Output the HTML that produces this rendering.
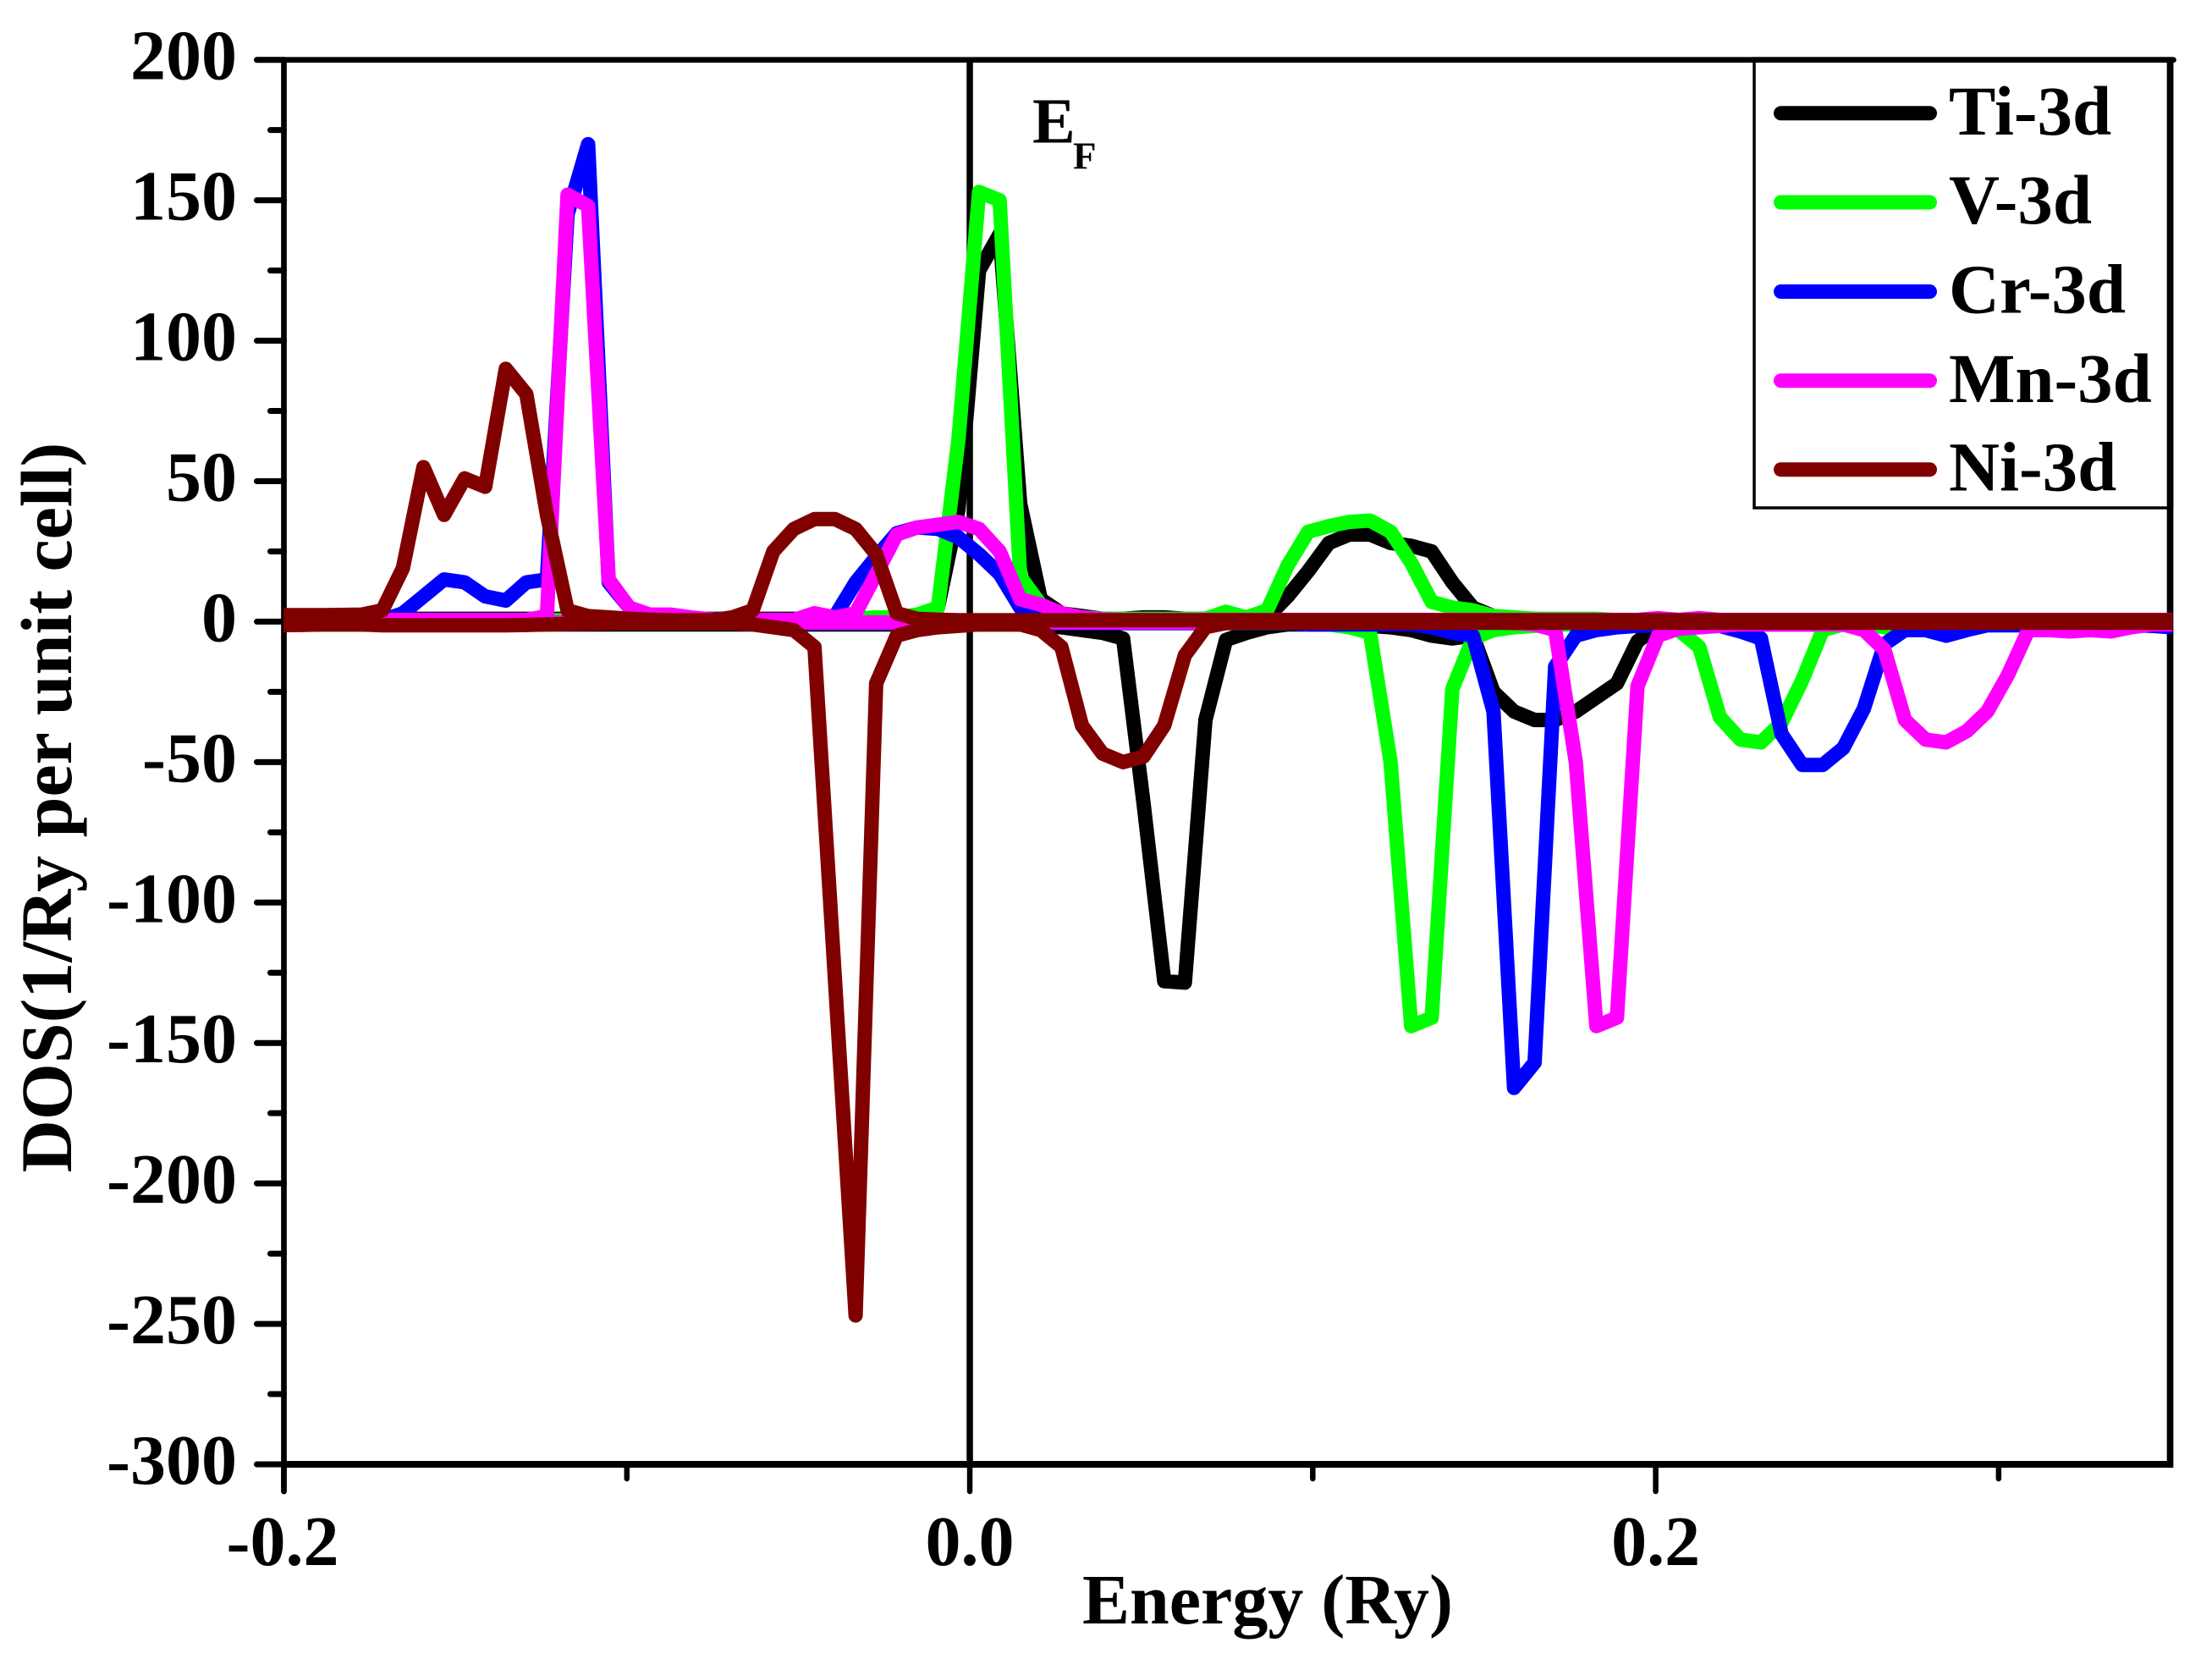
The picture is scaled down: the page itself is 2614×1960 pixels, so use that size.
<!DOCTYPE html>
<html lang="en">
<head>
<meta charset="utf-8">
<title>DOS chart</title>
<style>
html,body{margin:0;padding:0;background:#fff;}
svg{display:block;}
text{font-family:"Liberation Serif",serif;font-weight:bold;fill:#000;}
</style>
</head>
<body>
<svg id="chart" xmlns="http://www.w3.org/2000/svg" width="2614" height="1960" viewBox="0 0 2614 1960">
  <rect x="0" y="0" width="2614" height="1960" fill="#fff"/>
  <defs><clipPath id="plot-clip"><rect x="335" y="60" width="2233" height="1680"/></clipPath></defs>
  <g id="axes"></g>
  <g id="series" clip-path="url(#plot-clip)"></g>
  <text x="1498" y="1918" font-size="84" text-anchor="middle">Energy (Ry)</text>
  <text transform="translate(84,954) rotate(-90)" font-size="86" text-anchor="middle">DOS(1/Ry per unit cell)</text>
  <text x="1220" y="168.5" font-size="76">E</text>
  <text x="1268" y="199.5" font-size="45">F</text>
  <g id="legend"></g>
</svg>
<script>
const energies = [
-0.2013,-0.1953,-0.1893,-0.1833,-0.1773,-0.1713,-0.1653,-0.1593,-0.1533,-0.1473,
-0.1413,-0.1353,-0.1293,-0.1233,-0.1173,-0.1113,-0.1053,-0.0993,-0.0933,-0.0873,
-0.0813,-0.0753,-0.0693,-0.0633,-0.0573,-0.0513,-0.0453,-0.0393,-0.0333,-0.0273,
-0.0213,-0.0153,-0.0093,-0.0033,0.0027,0.0087,0.0147,0.0207,0.0267,0.0327,
0.0387,0.0447,0.0507,0.0567,0.0627,0.0687,0.0747,0.0807,0.0867,0.0927,
0.0987,0.1047,0.1107,0.1167,0.1227,0.1287,0.1347,0.1407,0.1467,0.1527,
0.1587,0.1647,0.1707,0.1767,0.1827,0.1887,0.1947,0.2007,0.2067,0.2127,
0.2187,0.2247,0.2307,0.2367,0.2427,0.2487,0.2547,0.2607,0.2667,0.2727,
0.2787,0.2847,0.2907,0.2967,0.3027,0.3087,0.3147,0.3207,0.3267,0.3327,
0.3387,0.3447,0.3507];

const tiUp = [
1,1,1,1,1,1,1,1,1,1,
1,1,1,1,1,1,1,1,1,1,
1,1,1,1,1,1,1,1,1,1,
1,1,5,40,125,138,42,8,3,2,
1,1,1.5,1.5,1,1,1,1,1.5,9,
18,28,31,31,28,27,25,14,5,2,
1,1,0.5,0.5,0.5,0.5,0.5,0.5,0.5,0.5,
0.5,0.5,0.5,0.5,0.5,0.5,0.5,0.5,0.5,0.5,
0.5,0.5,0.5,0.5,0.5,0.5,0.5,0.5,0.5,0.5,
0.5,0.5,0.5];
const tiDown = [
-1,-1,-1,-1,-1,-1,-1,-1,-1,-1,
-1,-1,-1,-1,-1,-1,-1,-1,-1,-1,
-1,-1,-1,-1,-1,-1,-1,-1,-1,-1,
-1,-1,-1,-1,-1,-1,-1,-1.5,-2,-3,
-4,-6,-65,-128,-128.5,-35,-6.5,-4,-2,-1,
-1,-1,-1.5,-1.5,-2,-3,-5,-6,-5,-25,
-32,-35,-35,-32,-27,-22,-7,-1.5,-1,-1,
-1,-1,-1,-1,-1,-1,-1,-1,-1,-1,
-1,-1,-1,-1,-1,-1,-1,-1,-1,-1,
-1,-1,-1];
const vUp = [
0.5,0.5,0.5,0.5,0.5,0.5,0.5,0.5,0.5,0.5,
0.5,0.5,0.5,0.5,0.5,0.5,0.5,0.5,0.5,0.5,
0.5,0.5,0.5,0.5,0.5,0.5,0.5,0.5,1,1.5,
1.5,2.5,5,65,153,150,16,6,3,1.5,
1,1,1,1,1,1,3.5,1.5,4,20,
32,34,35.5,36,32,21,7,5,4,2,
1.5,1,1,1,1,0.5,0.5,0.5,0.5,0.5,
0.5,0.5,0.5,0.5,0.5,0.5,0.5,0.5,0.5,0.5,
0.5,0.5,0.5,0.5,0.5,0.5,0.5,0.5,0.5,0.5,
0.5,0.5,0.5];
const vDown = [
-0.5,-0.5,-0.5,-0.5,-0.5,-0.5,-0.5,-0.5,-0.5,-0.5,
-0.5,-0.5,-0.5,-0.5,-0.5,-0.5,-0.5,-0.5,-0.5,-0.5,
-0.5,-0.5,-0.5,-0.5,-0.5,-0.5,-0.5,-0.5,-0.5,-0.5,
-0.5,-0.5,-0.5,-0.5,-0.5,-0.5,-0.5,-0.5,-0.5,-0.5,
-0.5,-0.5,-0.5,-0.5,-0.5,-0.5,-0.5,-0.5,-0.5,-0.5,
-0.5,-1,-2,-4,-50,-144,-141,-24,-6,-3,
-2,-1.5,-1,-1,-1,-1,-1,-1,-3,-9,
-34,-42,-43,-36,-21,-3,-1,-1,-2,-3,
-2,-3,-2,-1,-0.5,-0.5,-0.5,-0.5,-0.5,-0.5,
-0.5,-0.5,-0.5];
const crUp = [
0.3,0.3,0.3,0.3,0.3,0.5,3,9,15,14,
9,7.5,14,15,145,170,14,5,2,1,
0.5,0.5,0.5,0.5,0.5,0.5,0.5,2,14,23,
31.5,33.5,33,30,24,17,5,2,1.5,1,
0.5,0.5,0.5,0.5,0.5,0.5,0.5,0.5,0.5,0.5,
0.5,0.5,0.5,0.5,0.5,0.5,0.5,0.5,0.5,0.5,
0.5,0.5,0.5,0.5,0.5,0.5,0.5,0.5,0.5,0.5,
0.5,0.5,0.5,0.5,0.5,0.5,0.5,0.5,0.5,0.5,
0.5,0.5,0.5,0.5,0.5,0.5,0.5,0.5,0.5,0.5,
0.5,0.5,0.5];
const crDown = [
-0.5,-0.5,-0.5,-0.5,-0.5,-0.5,-0.5,-0.5,-0.5,-0.5,
-0.5,-0.5,-0.5,-0.5,-0.5,-0.5,-0.5,-0.5,-0.5,-0.5,
-0.5,-0.5,-0.5,-0.5,-0.5,-0.5,-0.5,-0.5,-0.5,-0.5,
-0.5,-0.5,-0.5,-0.5,-0.5,-0.5,-0.5,-0.5,-0.5,-0.5,
-0.5,-0.5,-0.5,-0.5,-0.5,-0.5,-0.5,-0.5,-0.5,-0.5,
-1,-1,-1,-1,-1,-1,-2,-4,-5,-32,
-166,-157,-16,-5,-3,-2,-1.5,-1.3,-1.3,-1.3,
-1.5,-3.5,-6,-40,-51,-51,-45,-31,-8,-3,
-3,-5,-3,-1.3,-1.3,-1.3,-1.3,-1.3,-1.3,-1.3,
-1.3,-1.5,-2];
const mnUp = [
0.6,0.6,0.6,0.6,0.6,0.6,0.6,0.6,0.6,0.6,
0.6,0.6,0.6,2,152,148,15,5,2.5,2.5,
1.5,0.8,0.6,0.6,0.6,0.6,3,1.5,3,17,
31,33.5,34.5,35.5,33,25,8,6,3,1.5,
0.8,0.6,0.6,0.6,0.6,0.6,0.6,0.6,0.6,0.6,
0.6,0.6,0.6,0.6,0.6,0.6,0.6,0.6,0.6,0.6,
0.6,0.6,0.6,0.6,0.6,0.6,0.6,1.2,0.6,1.2,
0.6,0.6,0.6,0.6,0.6,0.6,0.6,0.6,0.6,0.6,
0.6,0.6,0.6,0.6,0.6,0.6,0.6,0.6,0.6,0.6,
0.6,0.6,0.6];
const mnDown = [
-0.3,-0.3,-0.3,-0.3,-0.3,-0.3,-0.3,-0.3,-0.3,-0.3,
-0.3,-0.3,-0.3,-0.3,-0.3,-0.3,-0.3,-0.3,-0.3,-0.3,
-0.3,-0.3,-0.3,-0.3,-0.3,-0.3,-0.3,-0.3,-0.3,-0.3,
-0.3,-0.3,-0.3,-0.3,-0.3,-0.3,-0.3,-0.3,-0.3,-0.3,
-0.3,-0.3,-0.3,-0.3,-0.3,-0.3,-0.3,-0.3,-0.3,-0.3,
-0.3,-0.3,-0.3,-0.3,-0.3,-0.3,-0.3,-0.3,-0.3,-0.3,
-0.5,-1,-3,-50,-144,-141,-23,-5,-2.5,-2,
-1.5,-1,-1,-1,-1,-1,-1,-3,-10,-35,
-42,-43,-39,-32,-19,-3,-3,-3.5,-3,-3.5,
-2,-1,-1];
const niUp = [
2.3,2.3,2.3,2.4,2.5,4,19,55,38,51,
48,90,81,38,4,2,1.5,1,0.7,0.5,
0.5,0.5,1.5,4,25,33,36.5,36.5,33,24,
3,1,0.7,0.5,0.5,0.5,0.5,0.5,0.5,0.5,
0.5,0.5,0.5,0.5,0.5,0.5,0.5,0.5,0.5,0.5,
0.5,0.5,0.5,0.5,0.5,0.5,0.5,0.5,0.5,0.5,
0.5,0.5,0.5,0.5,0.5,0.5,0.5,0.5,0.5,0.5,
0.5,0.5,0.5,0.5,0.5,0.5,0.5,0.5,0.5,0.5,
0.5,0.5,0.5,0.5,0.5,0.5,0.5,0.5,0.5,0.5,
0.5,0.5,0.5];
const niDown = [
-1.2,-1.2,-1,-1,-1,-1.3,-1.3,-1.3,-1.3,-1.3,
-1.3,-1.3,-1.2,-1,-0.8,-0.7,-0.6,-0.5,-0.5,-0.5,
-0.5,-0.5,-0.5,-1,-2,-3,-9,-128,-247,-22,
-5,-3,-2,-1.5,-1,-1,-1,-3,-9,-37,
-47,-50,-48,-37,-12,-2,-0.5,-0.4,-0.4,-0.4,
-0.4,-0.4,-0.4,-0.4,-0.4,-0.4,-0.4,-0.4,-0.4,-0.4,
-0.4,-0.4,-0.4,-0.4,-0.4,-0.4,-0.4,-0.4,-0.4,-0.4,
-0.4,-0.4,-0.4,-0.4,-0.4,-0.4,-0.4,-0.4,-0.4,-0.4,
-0.4,-0.4,-0.4,-0.4,-0.4,-0.4,-0.4,-0.4,-0.4,-0.4,
-0.4,-0.4,-0.4];

const seriesNames = ['Ti-3d','V-3d','Cr-3d','Mn-3d','Ni-3d'];
const seriesColors = ['#000000','#00ff00','#0000ff','#ff00ff','#800000'];
const upChannels = [tiUp,vUp,crUp,mnUp,niUp];
const downChannels = [tiDown,vDown,crDown,mnDown,niDown];
const yMajorTicks = [200,150,100,50,0,-50,-100,-150,-200,-250,-300];
const yMinorTicks = [175,125,75,25,-25,-75,-125,-175,-225,-275];
const xMajorTicks = [-0.2,0,0.2];
const xMajorLabels = ['-0.2','0.0','0.2'];
const xMinorTicks = [-0.1,0.1,0.3];

const NS = 'http://www.w3.org/2000/svg';
const PLOT = {left:335.5,right:2564.5,top:70.7,bottom:1730};
const XMIN = -0.2, XMAX = 0.35, YMIN = -300, YMAX = 200;
function sx(v){ return PLOT.left + (v-XMIN)/(XMAX-XMIN)*(PLOT.right-PLOT.left); }
function sy(v){ return PLOT.bottom - (v-YMIN)/(YMAX-YMIN)*(PLOT.bottom-PLOT.top); }

function line(parent,x1,y1,x2,y2,w,cap,color){
  const el = document.createElementNS(NS,'line');
  el.setAttribute('x1',x1); el.setAttribute('y1',y1);
  el.setAttribute('x2',x2); el.setAttribute('y2',y2);
  el.setAttribute('stroke',color||'#000');
  el.setAttribute('stroke-width',w);
  el.setAttribute('stroke-linecap',cap||'butt');
  parent.appendChild(el);
  return el;
}
function label(parent,x,y,txt,size,anchor){
  const el = document.createElementNS(NS,'text');
  el.setAttribute('x',x); el.setAttribute('y',y);
  el.setAttribute('font-size',size);
  el.setAttribute('text-anchor',anchor);
  el.textContent = txt;
  parent.appendChild(el);
  return el;
}

const axes = document.getElementById('axes');
const fermi = line(axes,sx(0),PLOT.top,sx(0),PLOT.bottom,7.5);


const leftAxis = line(axes,PLOT.left,PLOT.top,PLOT.left,PLOT.bottom+32,6.7,'round');


const bottomAxis = line(axes,PLOT.left,PLOT.bottom,PLOT.right,PLOT.bottom,8);


const topAxis = line(axes,PLOT.left-32,PLOT.top,PLOT.right+4,PLOT.top,6.7,'round');


const rightAxis = line(axes,PLOT.right,PLOT.top,PLOT.right,PLOT.bottom+4,7.7);



yMajorTicks.forEach(function(v){
  const t = line(axes,PLOT.left-32,sy(v),PLOT.left,sy(v),7,'round');
  
  
  const l = label(axes,PLOT.left-55.5,sy(v)+23,String(v),84,'end');
  
  
});
yMinorTicks.forEach(function(v){
  const t = line(axes,PLOT.left-16,sy(v),PLOT.left,sy(v),7,'round');
  
  
});
xMajorTicks.forEach(function(v,i){
  const t = line(axes,sx(v),PLOT.bottom,sx(v),PLOT.bottom+32,6.5,'round');
  
  
  const l = label(axes,sx(v)+(i===0?-1.5:0),1849,xMajorLabels[i],84,'middle');
  
  
});
xMinorTicks.forEach(function(v){
  const t = line(axes,sx(v),PLOT.bottom,sx(v),PLOT.bottom+17,6.5,'round');
  
  
});

const seriesGroup = document.getElementById('series');
function drawChannel(values,color){
  const d = values.map(function(v,i){
    return (i?'L':'M')+sx(energies[i]).toFixed(1)+' '+sy(v).toFixed(1);
  }).join('');
  const p = document.createElementNS(NS,'path');
  p.setAttribute('d',d);
  p.setAttribute('fill','none');
  p.setAttribute('stroke',color);
  p.setAttribute('stroke-width',17);
  p.setAttribute('stroke-linejoin','round');
  p.setAttribute('stroke-linecap','butt');
  seriesGroup.appendChild(p);
  return p;
}
seriesNames.forEach(function(name,k){
  const up = drawChannel(upChannels[k],seriesColors[k]);
  
  
  const down = drawChannel(downChannels[k],seriesColors[k]);
  
  
});

const legend = document.getElementById('legend');
const box = document.createElementNS(NS,'rect');
box.setAttribute('x',2073);
box.setAttribute('y',70.7);
box.setAttribute('width',491.5);
box.setAttribute('height',529.3);
box.setAttribute('fill','#fff');
box.setAttribute('stroke','#000');
box.setAttribute('stroke-width',3.5);


legend.appendChild(box);
const legendEdge = line(legend,PLOT.right,PLOT.top,PLOT.right,602,7.7);


const legendTop = line(legend,2071,PLOT.top,PLOT.right+4,PLOT.top,6.7);


const legendRows = [133.8,239,344.5,449.8,554.7];
seriesNames.forEach(function(name,k){
  const l = line(legend,2104.5,legendRows[k],2280.5,legendRows[k],17,'round',seriesColors[k]);
  
  
  const t = label(legend,2303,legendRows[k]+25,name,83,'start');
  
  
});
</script>
</body>
</html>
